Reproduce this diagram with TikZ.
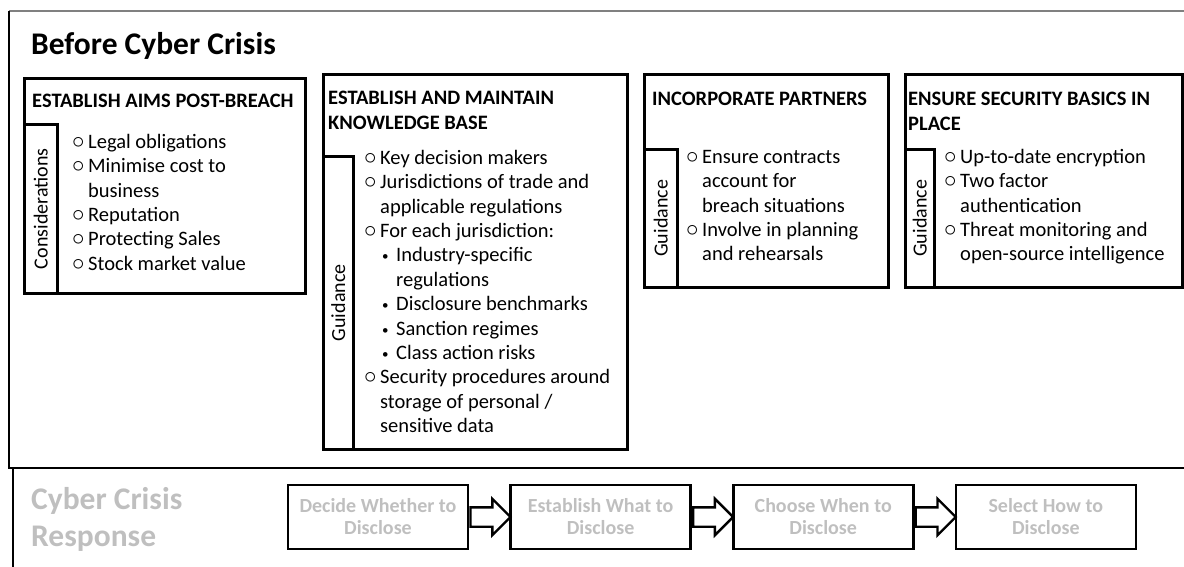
\documentclass[tikz,border=0pt]{standalone}
\usepackage{fontspec}
\setmainfont{Carlito}
\usetikzlibrary{positioning,shapes.arrows}
\definecolor{paleGray}{RGB}{191,191,191}
\definecolor{frameGray}{RGB}{128,128,128}
% list helpers
\newcommand{\circopt}{\makebox[16pt][l]{\fontsize{24}{24}\selectfont$\circ$}}
\newcommand{\dotopt}{\hspace*{18pt}\makebox[14pt][l]{\raisebox{1pt}{\fontsize{13}{13}\selectfont\textbullet}}}
\newcommand{\contline}{\hspace*{16pt}}
\newcommand{\subline}{\hspace*{32pt}}
\newcommand{\firstline}{\rule{0pt}{15pt}}
\begin{document}
\begin{tikzpicture}[
    x=1pt, y=-1pt,
    stage/.style={draw=black, line width=2.6pt, anchor=north west, inner sep=0pt},
    tab/.style={draw=black, line width=2.6pt, rotate=90, anchor=north west, inner sep=0pt, font=\fontsize{20}{24}\selectfont},
    head/.style={anchor=north west, align=left, inner sep=0pt, font=\bfseries\fontsize{20.5}{25}\selectfont},
    list/.style={anchor=north west, align=left, inner sep=0pt, font=\fontsize{20.5}{24.4}\selectfont},
    stepbox/.style={draw=black, line width=2.6pt, minimum width=180pt, minimum height=64pt, align=center, text=paleGray, font=\bfseries\fontsize{20}{22}\selectfont},
    blockarrow/.style={single arrow, draw=black, fill=white, line width=2.4pt, anchor=tail, minimum height=40pt, inner xsep=0pt, inner ysep=8.5pt, single arrow head extend=8.5pt, single arrow tip angle=90}
  ]
  \useasboundingbox (0,0) rectangle (1184,566);
  % Frames
  \draw[frameGray, line width=1.2pt] (9,11) -- (1186,11);
  \draw[line width=2pt] (9,11) -- (9,468);
  \draw[line width=2.6pt] (8,468) -- (1186,468);
  \draw[line width=2.4pt] (13,468) -- (13,568);

  % Before Cyber Crisis
  \node[anchor=base west, inner sep=0pt, font=\bfseries\fontsize{31.5}{38}\selectfont] (before_title) at (31,54.5) {Before Cyber Crisis};

  \node[stage, minimum width=281pt, minimum height=215pt] (aims) at (23,77) {};
  \node[tab, minimum width=169pt, minimum height=33pt] (aims_tab) at (aims.south west) {Considerations};
  \node[head] (aims_head) at (32,93.5) {ESTABLISH AIMS POST-BREACH};
  \node[list] (aims_list) at (72,133) {\firstline\circopt Legal obligations\\
    \circopt Minimise cost to\\ \contline business\\
    \circopt Reputation\\
    \circopt Protecting Sales\\
    \circopt Stock market value};

  \node[stage, minimum width=304pt, minimum height=375pt] (knowledge) at (322,73) {};
  \node[tab, minimum width=293pt, minimum height=30pt] (knowledge_tab) at (knowledge.south west) {Guidance};
  \node[head] (knowledge_head) at (328,90.5) {ESTABLISH AND MAINTAIN\\KNOWLEDGE BASE};
  \node[list] (knowledge_list) at (364,149) {\firstline\circopt Key decision makers\\
    \circopt Jurisdictions of trade and\\ \contline applicable regulations\\
    \circopt For each jurisdiction:\\
    \dotopt Industry-specific\\ \subline regulations\\
    \dotopt Disclosure benchmarks\\
    \dotopt Sanction regimes\\
    \dotopt Class action risks\\
    \circopt Security procedures around\\ \contline storage of personal /\\ \contline sensitive data};

  \node[stage, minimum width=244pt, minimum height=213pt] (partners) at (643,73) {};
  \node[tab, minimum width=138pt, minimum height=33pt] (partners_tab) at (partners.south west) {Guidance};
  \node[head] (partners_head) at (652,91.5) {INCORPORATE PARTNERS};
  \node[list] (partners_list) at (686,148) {\firstline\circopt Ensure contracts\\
    \contline account for\\ \contline breach situations\\
    \circopt Involve in planning\\ \contline and rehearsals};

  \node[stage, minimum width=277pt, minimum height=213pt] (basics) at (904,73) {};
  \node[tab, minimum width=138pt, minimum height=29pt] (basics_tab) at (basics.south west) {Guidance};
  \node[head] (basics_head) at (908,91.5) {ENSURE SECURITY BASICS IN\\PLACE};
  \node[list] (basics_list) at (944,148) {\firstline\circopt Up-to-date encryption\\
    \circopt Two factor\\ \contline authentication\\
    \circopt Threat monitoring and\\ \contline open-source intelligence};

  % Cyber Crisis Response
  \node[anchor=north west, align=left, inner sep=0pt, text=paleGray, font=\bfseries\fontsize{31.5}{37}\selectfont] (response_title) at (31,485) {\rule{0pt}{24pt}Cyber Crisis\\Response};

  \node[stepbox] (decide) at (378,517) {Decide Whether to\\Disclose};
  \node[stepbox, right=40pt of decide] (establish) {Establish What to\\Disclose};
  \node[stepbox, right=40pt of establish] (choose) {Choose When to\\Disclose};
  \node[stepbox, right=40pt of choose] (select) {Select How to\\Disclose};

  \node[blockarrow] (decide_arrow) at (decide.east) {};
  \node[blockarrow] (establish_arrow) at (establish.east) {};
  \node[blockarrow] (choose_arrow) at (choose.east) {};
\end{tikzpicture}
\end{document}
